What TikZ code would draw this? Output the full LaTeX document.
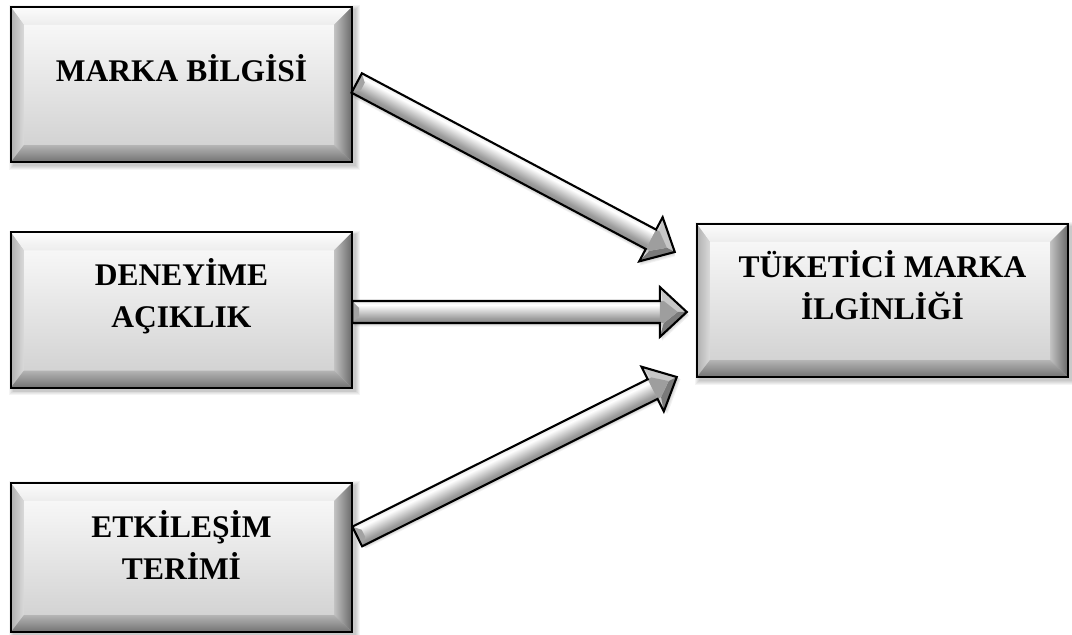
\documentclass[tikz,border=0pt]{standalone}
\usepackage{fontspec}
\setmainfont{Liberation Serif}
\usetikzlibrary{calc}

% greys for the bevelled boxes
\definecolor{faceTop}{HTML}{F7F7F7}
\definecolor{faceBot}{HTML}{D3D3D3}
\definecolor{bevTopOut}{HTML}{FCFCFC}
\definecolor{bevTopIn}{HTML}{EDEDED}
\definecolor{bevLeftOut}{HTML}{B0B0B0}
\definecolor{bevLeftIn}{HTML}{DADADA}
\definecolor{bevRightOut}{HTML}{686868}
\definecolor{bevRightIn}{HTML}{C2C2C2}
\definecolor{bevBotOut}{HTML}{727272}
\definecolor{bevBotIn}{HTML}{B4B4B4}
% greys for the block arrows
\definecolor{shaftDark}{HTML}{666666}
\definecolor{shaftMid}{HTML}{9C9C9C}
\definecolor{shaftLight}{HTML}{E2E2E2}

\pgfdeclareverticalshading{arrowshaft}{100bp}{color(0bp)=(shaftDark); color(35bp)=(shaftMid); color(66bp)=(white); color(80bp)=(shaftLight); color(100bp)=(shaftLight)}

\tikzset{
  boxframe/.style={rectangle, minimum width=341pt, minimum height=155pt, inner sep=0pt},
  boxlabel/.style={font=\bfseries\fontsize{31.5}{42}\selectfont, align=center, inner sep=0pt, text=black},
  rim/.style={line width=1.9pt, draw=black, line join=miter}
}

% bevelled box drawn on a named node: shadow, face, four bevels, black rim
\newcommand\bevelbox[1]{%
  \foreach \k in {1,...,5}{
    \fill[black, opacity=.045]
      ($(#1.south west)+(3-0.9*\k,-3-0.9*\k)$) rectangle ($(#1.north east)+(3+0.9*\k,-3+0.9*\k)$);
  }
  \coordinate (#1-inw) at ($(#1.north west)+(13,-18)$);
  \coordinate (#1-ine) at ($(#1.north east)+(-18,-18)$);
  \coordinate (#1-isw) at ($(#1.south west)+(13,17)$);
  \coordinate (#1-ise) at ($(#1.south east)+(-18,17)$);
  \shade[top color=faceTop, bottom color=faceBot] (#1-isw) rectangle (#1-ine);
  \shade[top color=bevTopOut, bottom color=bevTopIn]
    (#1.north west) -- (#1.north east) -- (#1-ine) -- (#1-inw) -- cycle;
  \shade[left color=bevLeftOut, right color=bevLeftIn]
    (#1.north west) -- (#1-inw) -- (#1-isw) -- (#1.south west) -- cycle;
  \shade[left color=bevRightIn, right color=bevRightOut]
    (#1.north east) -- (#1.south east) -- (#1-ise) -- (#1-ine) -- cycle;
  \shade[top color=bevBotIn, bottom color=bevBotOut]
    (#1.south west) -- (#1-isw) -- (#1-ise) -- (#1.south east) -- cycle;
  \draw[rim, line width=2pt] (#1.south west) rectangle (#1.north east);
}

% bevelled block arrow from the tail coordinate #1 to the tip coordinate #2
\newcommand\blockarrow[2]{%
  \path let \p1=($(#2)-(#1)$) in \pgfextra{%
    \pgfmathsetmacro\tmpa{veclen(\x1,\y1)}\global\let\barlen\tmpa
    \pgfmathsetmacro\tmpb{atan2(\y1,\x1)}\global\let\barang\tmpb};
  \pgfmathsetmacro\barneck{\barlen-27}%
  \pgfmathsetmacro\barfacet{\barlen-9}%
  \begin{scope}[transform canvas={shift={(#1)}, rotate=\barang}]
    \foreach \k in {1,...,4}{
      \fill[black, opacity=.05, shift={(0.6*\k,-0.9*\k)}]
        (0,-11) -- (\barneck,-11) -- (\barneck,-25) -- (\barlen,0)
        -- (\barneck,25) -- (\barneck,11) -- (0,11) -- cycle;
    }
    \shade[shading=arrowshaft] (0,-11) rectangle (\barneck,11);
    \fill[black!36] (0,11) -- (7,4) -- (7,-4) -- (0,-11) -- cycle;
    \fill[black!22] (\barneck,25) -- (\barlen,0) -- (\barfacet,0) -- (\barneck+4,11) -- cycle;
    \fill[black!52] (\barneck,-25) -- (\barlen,0) -- (\barfacet,0) -- (\barneck+4,-11) -- cycle;
    \fill[black!38] (\barneck,11) -- (\barneck+4,11) -- (\barfacet,0) -- (\barneck+4,-11) -- (\barneck,-11) -- cycle;
    \draw[rim, line width=2.1pt]
      (0,-11) -- (\barneck,-11) -- (\barneck,-25) -- (\barlen,0)
      -- (\barneck,25) -- (\barneck,11) -- (0,11) -- cycle;
  \end{scope}
}

\begin{document}
\begin{tikzpicture}[x=1pt, y=1pt]
  \useasboundingbox[fill=white] (0,0) rectangle (1072,635);

  % the four boxes
  \node[boxframe] (b1) at (181.5,550.5) {};
  \node[boxframe] (b2) at (181.5,325) {};
  \node[boxframe, minimum height=149pt] (b3) at (181.5,77.5) {};
  \node[boxframe, minimum width=371pt, minimum height=153pt] (b4) at (882.5,334.5) {};

  \bevelbox{b1}
  \bevelbox{b2}
  \bevelbox{b3}
  \bevelbox{b4}

  % box texts
  \node[boxlabel] (t1) at ($(b1.center)+(0,16)$) {MARKA BİLGİSİ};
  \node[boxlabel] (t2) at ($(b2.center)+(0,14)$) {DENEYİME\\AÇIKLIK};
  \node[boxlabel] (t3) at ($(b3.center)+(0,12)$) {ETKİLEŞİM\\TERİMİ};
  \node[boxlabel] (t4) at ($(b4.center)+(0,15)$) {TÜKETİCİ MARKA\\İLGİNLİĞİ};

  % arrow ends
  \coordinate (s1) at ($(b1.east)+(4.5,1.5)$);
  \coordinate (e1) at ($(b4.west)+(-22,48.5)$);
  \coordinate (s2) at ($(b2.east)+(0,-2)$);
  \coordinate (e2) at ($(b4.west)+(-10,-11.5)$);
  \coordinate (s3) at ($(b3.east)+(5,21)$);
  \coordinate (e3) at ($(b4.west)+(-20,-76.5)$);

  \blockarrow{s1}{e1}
  \blockarrow{s2}{e2}
  \blockarrow{s3}{e3}
\end{tikzpicture}
\end{document}
